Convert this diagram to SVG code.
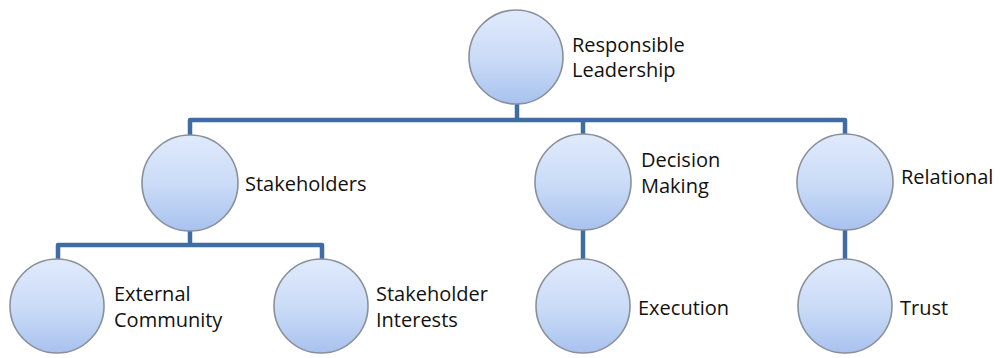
<svg xmlns="http://www.w3.org/2000/svg" width="1001" height="358" viewBox="0 0 1001 358">
<defs>
<linearGradient id="g" x1="0" y1="0" x2="0" y2="1">
<stop offset="0" stop-color="#e0eafc"/>
<stop offset="0.5" stop-color="#cbdcf7"/>
<stop offset="1" stop-color="#a8c2ef"/>
</linearGradient>
<style>
.n{fill:url(#g);stroke:#8a9099;stroke-width:1.6}
.c{fill:none;stroke:#3f6ca2;stroke-width:4.5;stroke-linejoin:round}
text{font-family:"Open Sans","Liberation Sans",sans-serif;font-size:20px;fill:#111}
</style>
</defs>
<rect width="1001" height="358" fill="#fff"/>
<g id="connectors">
<path class="c" d="M517,104 V120"/>
<path class="c" d="M190,135 V120 H845 V134"/>
<path class="c" d="M583,120 V134"/>
<path class="c" d="M190,230 V245"/>
<path class="c" d="M58,260 V245 H322 V260"/>
<path class="c" d="M583,230 V260"/>
<path class="c" d="M845,230 V260"/>
</g>
<g id="responsible-leadership">
<circle class="n" cx="516" cy="57" r="47"/>
<text x="572" y="52">Responsible</text>
<text x="572" y="77">Leadership</text>
</g>
<g id="stakeholders">
<circle class="n" cx="190" cy="183" r="48"/>
<text x="245" y="191">Stakeholders</text>
</g>
<g id="decision-making">
<circle class="n" cx="583" cy="182" r="48"/>
<text x="641" y="167">Decision</text>
<text x="641" y="193">Making</text>
</g>
<g id="relational">
<circle class="n" cx="845" cy="182" r="48"/>
<text x="901" y="184">Relational</text>
</g>
<g id="external-community">
<circle class="n" cx="57" cy="306" r="47"/>
<text x="114" y="301">External</text>
<text x="114" y="327">Community</text>
</g>
<g id="stakeholder-interests">
<circle class="n" cx="321" cy="306" r="47"/>
<text x="376" y="301">Stakeholder</text>
<text x="376" y="327">Interests</text>
</g>
<g id="execution">
<circle class="n" cx="583" cy="306" r="47"/>
<text x="638" y="315">Execution</text>
</g>
<g id="trust">
<circle class="n" cx="845" cy="306" r="47"/>
<text x="900" y="315">Trust</text>
</g>
</svg>
